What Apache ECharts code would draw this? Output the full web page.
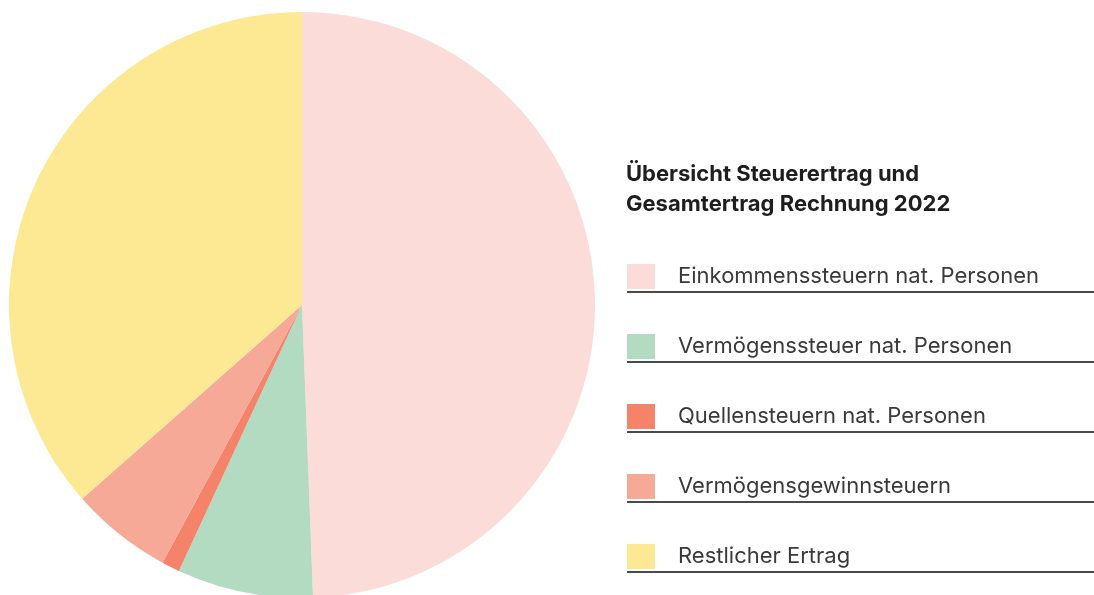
<!DOCTYPE html>
<html>
<head>
<meta charset="utf-8">
<script src="https://cdn.jsdelivr.net/npm/echarts@6/dist/echarts.min.js"></script>
<style>
  html, body { margin: 0; padding: 0; background: #fff; }
  #chart { width: 1094px; height: 595px; }
</style>
</head>
<body>
<div id="chart"></div>
<script>
// Share of total revenue (%)
const categories = [
  "Einkommenssteuern nat. Personen",
  "Vermögenssteuer nat. Personen",
  "Quellensteuern nat. Personen",
  "Vermögensgewinnsteuern",
  "Restlicher Ertrag"
];
const shares = [49.4, 7.5, 1.0, 5.6, 36.5];
const colors = ["#FCDCD8", "#B3DBC2", "#F4836A", "#F6A997", "#FDE993"];
const titleLines = ["Übersicht Steuerertrag und", "Gesamtertrag Rechnung 2022"];

const chart = echarts.init(document.getElementById("chart"));

const FONT = "Inter";
const legendTop = 264;
const rowStep = 70;

// underline under each legend row
const underlines = categories.map((c, i) => ({
  type: "line",
  shape: { x1: 627, y1: legendTop + 28 + i * rowStep, x2: 1094, y2: legendTop + 28 + i * rowStep },
  style: { stroke: "#4a4a4a", lineWidth: 2 },
  silent: true
}));

const option = {
  animation: false,
  color: colors,
  legend: {
    orient: "vertical",
    left: 627,
    top: legendTop,
    padding: 0,
    icon: "rect",
    itemWidth: 28,
    itemHeight: 25,
    itemGap: rowStep - 25,
    selectedMode: false,
    data: categories,
    textStyle: {
      fontFamily: FONT,
      fontSize: 22,
      color: "#3a3a3a",
      padding: [0, 0, 0, 18]
    }
  },
  graphic: [
    {
      type: "text",
      left: 626,
      top: 159,
      style: {
        text: titleLines.join("\n"),
        font: "bold 22px " + FONT,
        fill: "#1e1e1e",
        lineHeight: 30
      }
    },
    ...underlines
  ],
  series: [
    {
      type: "pie",
      center: [302, 305],
      radius: 293,
      startAngle: 90,
      clockwise: true,
      label: { show: false },
      labelLine: { show: false },
      emphasis: { disabled: true },
      itemStyle: { borderWidth: 0 },
      data: categories.map((name, i) => ({ name, value: shares[i] }))
    }
  ]
};

chart.setOption(option);
</script>
</body>
</html>
